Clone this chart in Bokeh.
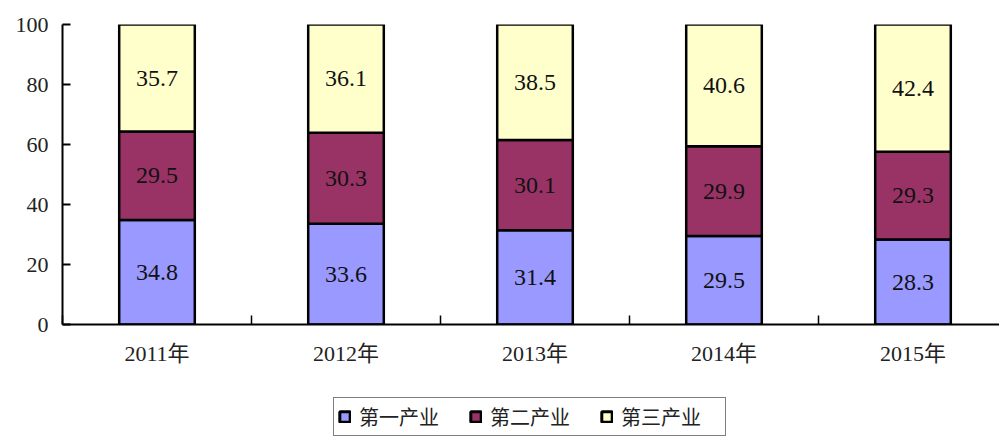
import numpy as np
from bokeh.plotting import figure
from bokeh.layouts import column
from bokeh.models import (Range1d, FixedTicker, LinearAxis, ColumnDataSource,
                          Legend, LegendItem, LabelSet)
from bokeh.embed import file_html
from bokeh.resources import INLINE

years = ["2011年", "2012年", "2013年", "2014年", "2015年"]
primary = [34.8, 33.6, 31.4, 29.5, 28.3]
secondary = [29.5, 30.3, 30.1, 29.9, 29.3]
tertiary = [35.7, 36.1, 38.5, 40.6, 42.4]
series_names = ["第一产业", "第二产业", "第三产业"]
colors = ["#9999FF", "#993366", "#FFFFCC"]

FONT = "'Liberation Serif', 'Noto Sans CJK SC'"
CJK = "'Noto Sans CJK SC'"

xs = np.arange(len(years)) + 0.5
p1 = np.array(primary)
p2 = np.array(secondary)
p3 = np.array(tertiary)
bottoms = [np.zeros_like(p1), p1, p1 + p2]
tops = [p1, p1 + p2, p1 + p2 + p3]

FW = 937
p = figure(frame_width=FW, frame_height=300, output_backend="svg", toolbar_location=None,
           x_range=Range1d(0, FW / 189), y_range=Range1d(0, 100),
           min_border_left=62, min_border_top=24, min_border_right=0,
           min_border_bottom=72)
p.outline_line_color = None
p.xgrid.visible = False
p.ygrid.visible = False
p.background_fill_color = "white"
p.border_fill_color = "white"

# legend strip below the chart
lg = figure(width=62 + FW, height=40, output_backend="svg", toolbar_location=None,
            min_border=0, x_range=Range1d(-10, -9), y_range=Range1d(-10, -9))
lg.axis.visible = False
lg.grid.visible = False
lg.outline_line_color = None

lg_renderers = []
for i in range(3):
    src = ColumnDataSource(dict(x=xs, bottom=bottoms[i], top=tops[i],
                                mid=(bottoms[i] + tops[i]) / 2,
                                lab=[f"{v:.1f}" for v in [primary, secondary, tertiary][i]]))
    p.vbar(x="x", bottom="bottom", top="top", width=0.4, source=src,
           fill_color=colors[i], line_color="black", line_width=2.5)
    ls = LabelSet(x="x", y="mid", text="lab", source=src, text_align="center",
                  text_baseline="middle", text_font=FONT,
                  text_font_size="24px", text_color="#111111")
    p.add_layout(ls)
    r = lg.vbar(x="x", bottom="bottom", top="top", width=0.4, source=src,
                fill_color=colors[i], line_color="black", line_width=3)
    r.visible = False
    lg_renderers.append(r)

# y axis
ya = p.yaxis[0]
ya.ticker = FixedTicker(ticks=[0, 20, 40, 60, 80, 100])
ya.major_tick_in = 8
ya.major_tick_out = 0
ya.minor_tick_line_color = None
ya.axis_line_color = "black"
ya.axis_line_width = 2
ya.major_tick_line_width = 2
ya.major_label_text_font = FONT
ya.major_label_text_font_size = "22px"
ya.major_label_text_color = "#222222"
ya.major_label_standoff = 14

# x axis (ticks at category boundaries)
xa = p.xaxis[0]
xa.ticker = FixedTicker(ticks=[0, 1, 2, 3, 4, 5])
xa.major_tick_in = 9
xa.major_tick_out = 0
xa.minor_tick_line_color = None
xa.axis_line_width = 2
xa.major_tick_line_width = 1.5
xa.major_label_text_font_size = "1px"
xa.major_label_text_alpha = 0
xa.major_label_standoff = 0

# x labels axis
xl = LinearAxis(ticker=FixedTicker(ticks=list(xs)),
                major_label_overrides={float(x): y for x, y in zip(xs, years)},
                axis_line_color=None, major_tick_line_color=None,
                minor_tick_line_color=None,
                major_label_text_font=FONT, major_label_text_font_size="22px",
                major_label_text_color="#222222", major_label_standoff=10)
p.add_layout(xl, "below")

legend = Legend(items=[LegendItem(label=series_names[i], renderers=[lg_renderers[i]])
                       for i in range(3)],
                orientation="horizontal", location=(271, 0),
                label_text_font=CJK, label_text_font_size="20px",
                label_text_color="#222222", label_height=20, label_width=100,
                glyph_width=13, glyph_height=13, label_standoff=8,
                spacing=10, padding=4, margin=0,
                border_line_color="black", border_line_width=1.5)
lg.add_layout(legend, "center")

layout = column(p, lg, spacing=0)
open("out.html", "w").write(file_html(layout, INLINE))
